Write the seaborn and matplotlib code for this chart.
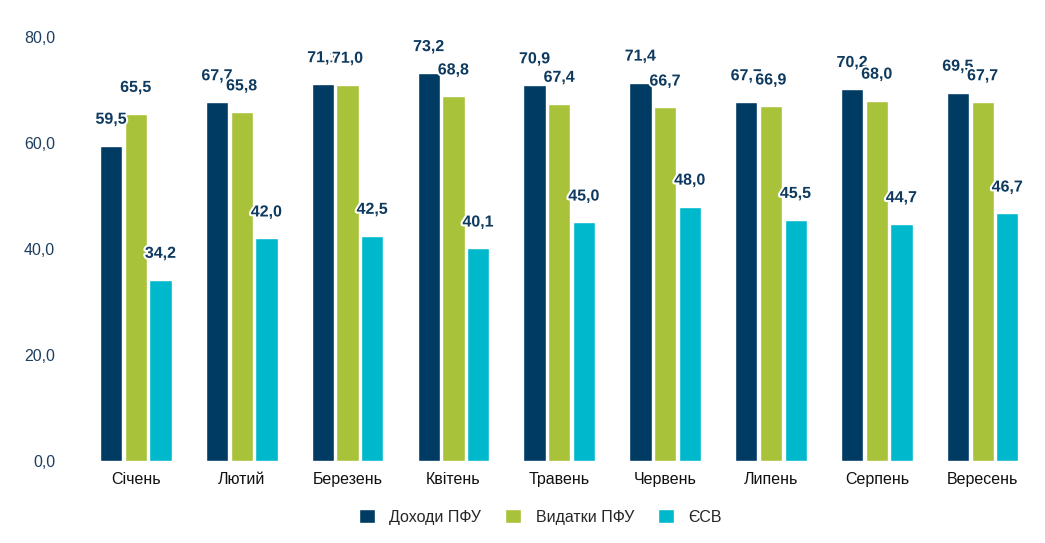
import pandas as pd
import seaborn as sns
import matplotlib.pyplot as plt
import matplotlib.patheffects as pe

months = ["Січень", "Лютий", "Березень", "Квітень", "Травень",
          "Червень", "Липень", "Серпень", "Вересень"]
income = [59.5, 67.7, 71.1, 73.2, 70.9, 71.4, 67.7, 70.2, 69.5]
spending = [65.5, 65.8, 71.0, 68.8, 67.4, 66.7, 66.9, 68.0, 67.7]
esv = [34.2, 42.0, 42.5, 40.1, 45.0, 48.0, 45.5, 44.7, 46.7]
series = ["Доходи ПФУ", "Видатки ПФУ", "ЄСВ"]
colors = ["#003B64", "#A8C23A", "#00B8CC"]

df = pd.DataFrame({"month": months * 3,
                   "value": income + spending + esv,
                   "series": [s for s in series for _ in months]})

sns.set_style("white")
plt.rcParams["font.family"] = ["Liberation Sans", "DejaVu Sans"]

fig = plt.figure(figsize=(10.45, 5.43), dpi=100)
ax = fig.add_axes([0.0794, 0.151, 0.9116, 0.781])

sns.barplot(data=df, x="month", y="value", hue="series", palette=colors,
            width=0.7, gap=0.1, saturation=1, ax=ax, legend=True)

# value labels with a white halo, like the source chart
for cont in ax.containers:
    for bar in cont:
        h = bar.get_height()
        ax.annotate(f"{h:.1f}".replace(".", ","),
                    (bar.get_x() + bar.get_width() / 2, h),
                    xytext=(0, 19), textcoords="offset points",
                    ha="center", va="center", fontsize=11.5, fontweight="bold",
                    color="#0E3A5F",
                    path_effects=[pe.withStroke(linewidth=3, foreground="white")])

ax.set_ylim(0, 80)
ax.set_xlim(-0.5, 8.5)
ax.set_yticks([0, 20, 40, 60, 80])
ax.set_yticklabels([f"{v:.1f}".replace(".", ",") for v in [0, 20, 40, 60, 80]],
                   fontsize=11.5, color="#1F3F60")
ax.tick_params(axis="y", pad=20, length=0)
ax.tick_params(axis="x", labelsize=11.5, length=0, pad=8, labelcolor="#111111")
ax.set_xlabel("")
ax.set_ylabel("")
sns.despine(ax=ax, left=True, bottom=True)

handles, labels = ax.get_legend_handles_labels()
ax.get_legend().remove()
fig.legend(handles, labels, loc="center", bbox_to_anchor=(0.517, 0.048), ncol=3,
           frameon=False, fontsize=11.5, handlelength=1.0, handleheight=1.0,
           columnspacing=1.5, handletextpad=0.9)

fig.savefig("out.png", dpi=100)
